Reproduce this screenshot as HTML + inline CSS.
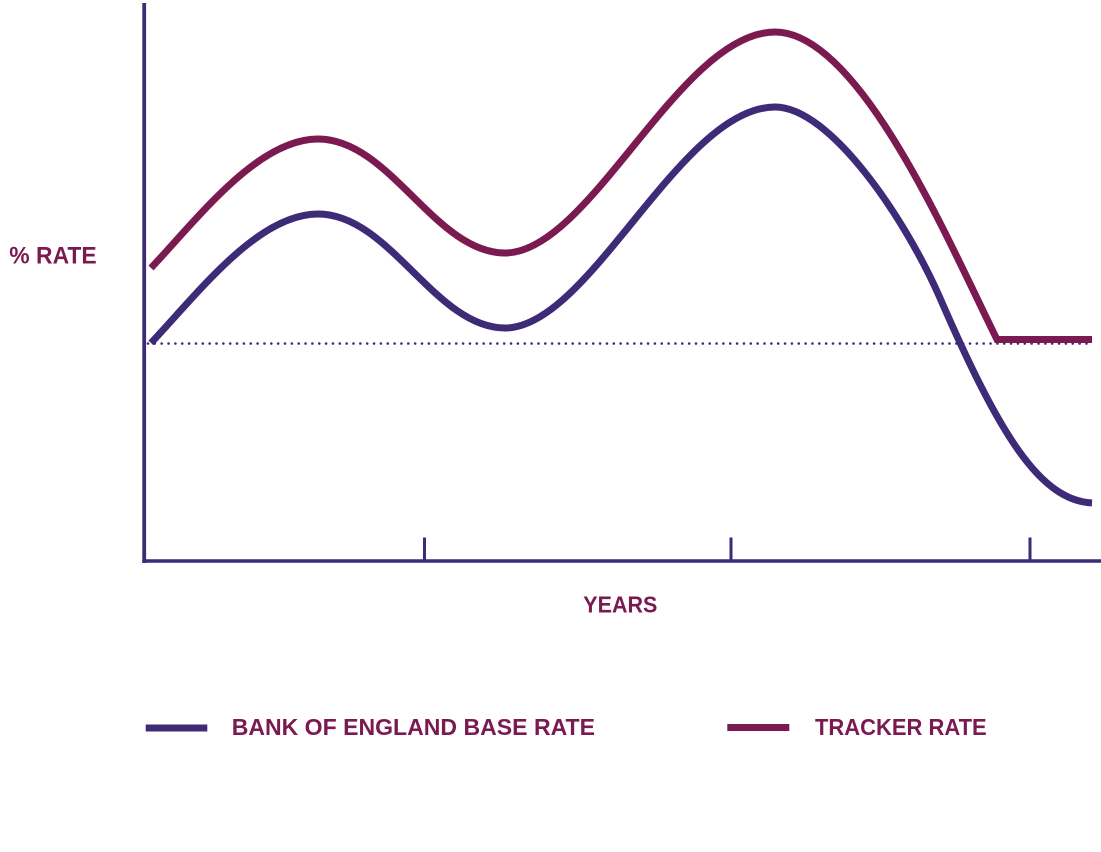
<!DOCTYPE html>
<html>
<head>
<meta charset="utf-8">
<style>
html,body{margin:0;padding:0;background:#fff;}
svg{display:block;}
text{font-family:"Liberation Sans",sans-serif;font-weight:bold;fill:#7a1a50;}
</style>
</head>
<body>
<svg width="1101" height="852" viewBox="0 0 1101 852" xmlns="http://www.w3.org/2000/svg">
  <!-- axes -->
  <line x1="144.2" y1="3" x2="144.2" y2="563" stroke="#3d2b78" stroke-width="3.8"/>
  <line x1="142.3" y1="561" x2="1101" y2="561" stroke="#3d2b78" stroke-width="3.6"/>
  <line x1="424.5" y1="537.5" x2="424.5" y2="561" stroke="#3d2b78" stroke-width="3"/>
  <line x1="731" y1="537.5" x2="731" y2="561" stroke="#3d2b78" stroke-width="3"/>
  <line x1="1030" y1="537.5" x2="1030" y2="561" stroke="#3d2b78" stroke-width="3"/>

  <!-- dotted baseline -->
  <line x1="148" y1="343.5" x2="1090" y2="343.5" stroke="#3d2b78" stroke-width="2.6" stroke-linecap="round" stroke-dasharray="0 6.85"/>

  <!-- tracker rate -->
  <path d="M151,268 C199,217 258,139 318,139 C390,139 435,253 505,253 C590,253 680,32 775,32 C860,32 950,245 997,339.5 L1092,339.5"
        fill="none" stroke="#7a1a50" stroke-width="7" stroke-linejoin="miter"/>

  <!-- base rate -->
  <path d="M151,343 C199,292 258,214 318,214 C390,214 435,328 505,328 C590,328 680,107 775,107 C830,107 905,218 940,298 C970,367 1000,436 1000,436 M940,298 C960,344 1000,436 1000,436"
        fill="none" stroke="none"/>
  <path d="M151,343 C199,292 258,214 318,214 C390,214 435,328 505,328 C590,328 680,107 775,107 C830,107 905,218 940,298 C1000,436 1040,500 1092,503"
        fill="none" stroke="#3d2b78" stroke-width="7"/>

  <!-- labels -->
  <text x="9.3" y="263.3" font-size="24" textLength="87.4" lengthAdjust="spacingAndGlyphs">% RATE</text>
  <text x="583.3" y="612.3" font-size="23.5" textLength="74" lengthAdjust="spacingAndGlyphs">YEARS</text>

  <!-- legend -->
  <line x1="145.7" y1="728" x2="207.3" y2="728" stroke="#3d2b78" stroke-width="7"/>
  <text x="231.7" y="735" font-size="23.5" textLength="363.3" lengthAdjust="spacingAndGlyphs">BANK OF ENGLAND BASE RATE</text>
  <line x1="727.3" y1="727.5" x2="789.3" y2="727.5" stroke="#7a1a50" stroke-width="7"/>
  <text x="815" y="735" font-size="23.5" textLength="171.7" lengthAdjust="spacingAndGlyphs">TRACKER RATE</text>
</svg>
</body>
</html>
